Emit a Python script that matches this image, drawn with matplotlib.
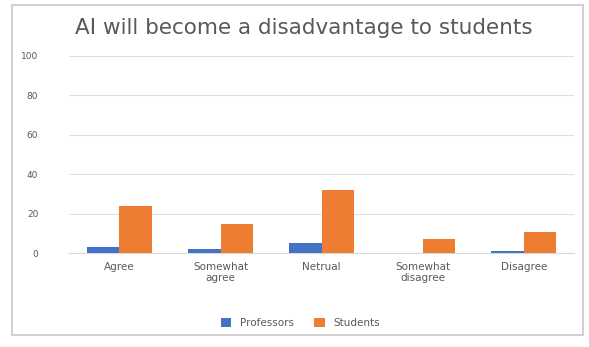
import matplotlib
matplotlib.use('Agg')
import matplotlib.pyplot as plt
from matplotlib.patches import Rectangle
import numpy as np

categories = ['Agree', 'Somewhat\nagree', 'Netrual', 'Somewhat\ndisagree', 'Disagree']
professors = [3, 2, 5, 0, 1]
students = [24, 15, 32, 7, 11]
yticks = [0, 20, 40, 60, 80, 100]

BLUE = '#4472C4'
ORANGE = '#ED7D31'
GRAY = '#595959'

fig = plt.figure(figsize=(5.89, 3.47), dpi=100, facecolor='white')

# chart frame
fig.patches.append(Rectangle((0.02, 0.035), 0.97, 0.95, transform=fig.transFigure,
                             facecolor='none', edgecolor='#C8C8C8', linewidth=1.2))

ax = fig.add_axes([0.117, 0.27, 0.858, 0.57])
x = np.arange(len(categories))
w = 0.32
ax.bar(x - w / 2, professors, w, color=BLUE, label='Professors', zorder=3)
ax.bar(x + w / 2, students, w, color=ORANGE, label='Students', zorder=3)

ax.set_ylim(0, 100)
ax.set_xlim(-0.5, len(categories) - 0.5)
ax.set_yticks(yticks)
ax.set_xticks(x)
ax.set_xticklabels(categories, fontsize=7.5, color=GRAY)
ax.tick_params(axis='y', labelsize=6.5, colors=GRAY, length=0, pad=22)
ax.tick_params(axis='x', length=0, pad=6)
ax.grid(axis='y', color='#E0E0E0', linewidth=0.8, zorder=0)
for s in ['top', 'right', 'left']:
    ax.spines[s].set_visible(False)
ax.spines['bottom'].set_color('#D9D9D9')

fig.text(0.515, 0.92, 'AI will become a disadvantage to students', ha='center', va='center',
         fontsize=15.5, color=GRAY)

fig.legend(loc='center', bbox_to_anchor=(0.51, 0.07), ncol=2, frameon=False, fontsize=7.5,
           handlelength=1.0, handleheight=1.0, columnspacing=2.0, labelcolor=GRAY)

plt.savefig('out.png', dpi=100, facecolor='white')
